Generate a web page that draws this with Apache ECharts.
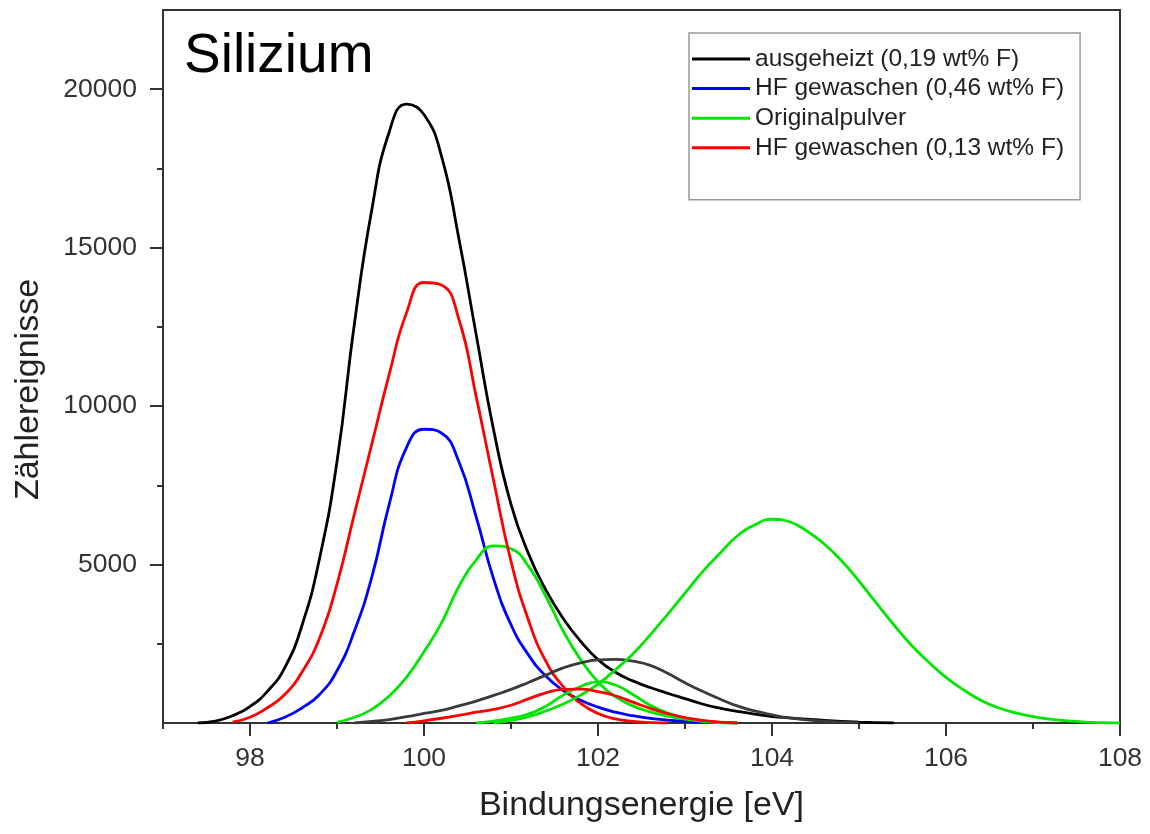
<!DOCTYPE html>
<html><head><meta charset="utf-8">
<script src="https://cdn.jsdelivr.net/npm/echarts@6/dist/echarts.min.js"></script>
<style>html,body{margin:0;padding:0;background:#fff}#c{width:1150px;height:834px}</style>
</head><body><div id="c"></div><script>
// ---- axis ticks / labels ----
const xTickValues = [98, 100, 102, 104, 106, 108];
const xMinorTickValues = [97, 99, 101, 103, 105, 107];
const yTickValues = [5000, 10000, 15000, 20000];
const yMinorTickValues = [2500, 7500, 12500, 17500];

// ---- legend names ----
const nameAusgeheizt = 'ausgeheizt (0,19 wt% F)';
const nameHF046 = 'HF gewaschen (0,46 wt% F)';
const nameOriginal = 'Originalpulver';
const nameHF013 = 'HF gewaschen (0,13 wt% F)';

// ---- curves [energy eV, counts] ----
const ausgeheiztMain = [[97.4,0],[97.6,60],[97.8,230],[98.0,520],[98.2,1000],[98.4,1750],[98.6,3100],[98.8,5200],[99.0,8250],[99.2,12600],[99.4,16200],[99.6,18650],[99.8,19530],[100.0,19200],[100.2,17900],[100.4,15300],[100.6,12250],[100.8,9250],[101.0,6900],[101.2,5350],[101.4,4200],[101.6,3300],[101.8,2580],[102.0,2000],[102.2,1600],[102.4,1330],[102.6,1120],[102.8,940],[103.0,770],[103.2,600],[103.4,470],[103.6,370],[103.8,280],[104.0,205],[104.2,160],[104.4,120],[104.6,80],[104.8,50],[105.0,30],[105.2,15],[105.4,0]];
const ausgeheiztComp = [[99.2,0],[99.4,50],[99.6,110],[99.8,200],[100.0,300],[100.2,400],[100.4,540],[100.6,690],[100.8,870],[101.0,1060],[101.2,1280],[101.4,1510],[101.6,1740],[101.8,1900],[102.0,1990],[102.2,2010],[102.4,1950],[102.6,1820],[102.8,1570],[103.0,1270],[103.2,1000],[103.4,760],[103.6,540],[103.8,380],[104.0,260],[104.2,160],[104.4,100],[104.6,55],[104.8,25],[105.0,0]];
const hf046Main = [[98.2,0],[98.4,180],[98.6,480],[98.8,900],[99.0,1650],[99.2,2900],[99.4,4600],[99.6,6900],[99.8,8700],[100.0,9270],[100.2,9150],[100.4,8250],[100.6,6500],[100.8,4550],[101.0,3100],[101.2,2150],[101.4,1480],[101.6,1020],[101.8,720],[102.0,500],[102.2,340],[102.4,230],[102.6,150],[102.8,90],[103.0,55],[103.2,30],[103.4,10],[103.6,0]];
const originalPeak1 = [[99.0,20],[99.2,180],[99.4,430],[99.6,850],[99.8,1450],[100.0,2250],[100.2,3150],[100.4,4300],[100.6,5150],[100.8,5590],[101.0,5500],[101.2,4950],[101.4,4000],[101.6,2900],[101.8,2000],[102.0,1300],[102.2,830],[102.4,540],[102.6,350],[102.8,220],[103.0,120],[103.2,50],[103.4,15],[103.6,0]];
const originalPeak2 = [[100.6,0],[100.8,60],[101.0,150],[101.2,280],[101.4,530],[101.6,880],[101.8,1150],[102.0,1300],[102.2,1200],[102.4,900],[102.6,560],[102.8,310],[103.0,150],[103.2,70],[103.4,20],[103.6,0]];
const originalPeak3 = [[100.8,0],[101.0,80],[101.2,200],[101.4,380],[101.6,600],[101.8,880],[102.0,1230],[102.2,1680],[102.4,2180],[102.6,2780],[102.8,3430],[103.0,4100],[103.2,4770],[103.4,5350],[103.6,5900],[103.8,6250],[104.0,6430],[104.2,6350],[104.4,6060],[104.6,5650],[104.8,5120],[105.0,4480],[105.2,3780],[105.4,3100],[105.6,2460],[105.8,1920],[106.0,1440],[106.2,1050],[106.4,720],[106.6,480],[106.8,320],[107.0,200],[107.2,120],[107.4,70],[107.6,30],[107.8,10],[108.0,0]];
const hf013Main = [[97.8,30],[98.0,180],[98.2,480],[98.4,900],[98.6,1620],[98.8,2680],[99.0,4380],[99.2,6600],[99.4,8800],[99.6,11000],[99.8,12950],[100.0,13900],[100.2,13820],[100.4,12750],[100.6,10300],[100.8,7650],[101.0,5100],[101.2,3250],[101.4,1950],[101.6,1150],[101.8,620],[102.0,300],[102.2,130],[102.4,50],[102.6,15],[102.8,0]];
const hf013Comp = [[99.8,0],[100.0,70],[100.2,150],[100.4,240],[100.6,340],[100.8,430],[101.0,560],[101.2,760],[101.4,950],[101.6,1060],[101.8,1070],[102.0,990],[102.2,860],[102.4,660],[102.6,460],[102.8,300],[103.0,170],[103.2,80],[103.4,30],[103.6,0]];

const FONT = 'Liberation Sans, Arial, sans-serif';
function curve(name, data, color) {
  return {
    type: 'line', name: name, data: data, smooth: 0.5,
    symbol: 'none', showSymbol: false, xAxisIndex: 0, yAxisIndex: 0,
    lineStyle: { color: color, width: 2.8 }, itemStyle: { color: color },
    emphasis: { disabled: true }, silent: true, z: 3
  };
}

const chart = echarts.init(document.getElementById('c'), null, { renderer: 'canvas' });
chart.setOption({
  animation: false,
  backgroundColor: '#fff',
  title: {
    text: 'Silizium', left: 179, top: 24,
    textStyle: { fontFamily: FONT, fontSize: 55, fontWeight: 'normal', color: '#000' }
  },
  legend: {
    orient: 'vertical', left: 689, top: 33,
    padding: [13, 16, 39, 3],
    borderColor: '#999', borderWidth: 1.5,
    icon: 'rect', itemWidth: 58, itemHeight: 3, itemGap: 3.6,
    data: [nameAusgeheizt, nameHF046, nameOriginal, nameHF013],
    textStyle: { fontFamily: FONT, fontSize: 24.5, color: '#222', lineHeight: 26 },
    selectedMode: false
  },
  grid: {
    left: 163, right: 30, top: 10, bottom: 111,
    show: true, borderColor: '#333', borderWidth: 2, backgroundColor: 'transparent'
  },
  xAxis: [{
    type: 'value', min: 97, max: 108, position: 'bottom',
    name: 'Bindungsenergie [eV]', nameLocation: 'middle', nameGap: 66,
    nameTextStyle: { fontFamily: FONT, fontSize: 34, color: '#222' },
    axisLine: { show: true, lineStyle: { color: '#333', width: 2 } },
    axisTick: { show: true, inside: false, length: 13, customValues: xTickValues, lineStyle: { color: '#333', width: 2 } },
    axisLabel: { show: true, customValues: xTickValues, margin: 22, fontFamily: FONT, fontSize: 26.5, color: '#333', formatter: v => String(v) },
    splitLine: { show: false }
  }, {
    type: 'value', min: 97, max: 108, position: 'bottom',
    axisLine: { show: false },
    axisTick: { show: true, inside: false, length: 6, customValues: xMinorTickValues, lineStyle: { color: '#333', width: 2 } },
    axisLabel: { show: false },
    splitLine: { show: false }
  }],
  yAxis: [{
    type: 'value', min: 0, max: 22500, position: 'left',
    name: 'Zählereignisse', nameLocation: 'middle', nameGap: 117, nameRotate: 90,
    nameTextStyle: { fontFamily: FONT, fontSize: 34, color: '#222', padding: [0, 46, 0, 0] },
    axisLine: { show: true, lineStyle: { color: '#333', width: 2 } },
    axisTick: { show: true, inside: false, length: 13, customValues: yTickValues, lineStyle: { color: '#333', width: 2 } },
    axisLabel: { show: true, customValues: yTickValues, margin: 26, fontFamily: FONT, fontSize: 26.5, color: '#333', formatter: v => String(v) },
    splitLine: { show: false }
  }, {
    type: 'value', min: 0, max: 22500, position: 'left',
    axisLine: { show: false },
    axisTick: { show: true, inside: false, length: 6, customValues: yMinorTickValues, lineStyle: { color: '#333', width: 2 } },
    axisLabel: { show: false },
    splitLine: { show: false }
  }],
  series: [
    curve(nameAusgeheizt, ausgeheiztMain, '#000000'),
    curve(nameHF046, hf046Main, '#0000ff'),
    curve(nameOriginal, originalPeak1, '#00e600'),
    curve(nameHF013, hf013Main, '#ff0000'),
    curve(nameAusgeheizt, ausgeheiztComp, '#3a3a3a'),
    curve(nameOriginal, originalPeak2, '#00e600'),
    curve(nameOriginal, originalPeak3, '#00e600'),
    curve(nameHF013, hf013Comp, '#ff0000')
  ]
});
</script></body></html>
